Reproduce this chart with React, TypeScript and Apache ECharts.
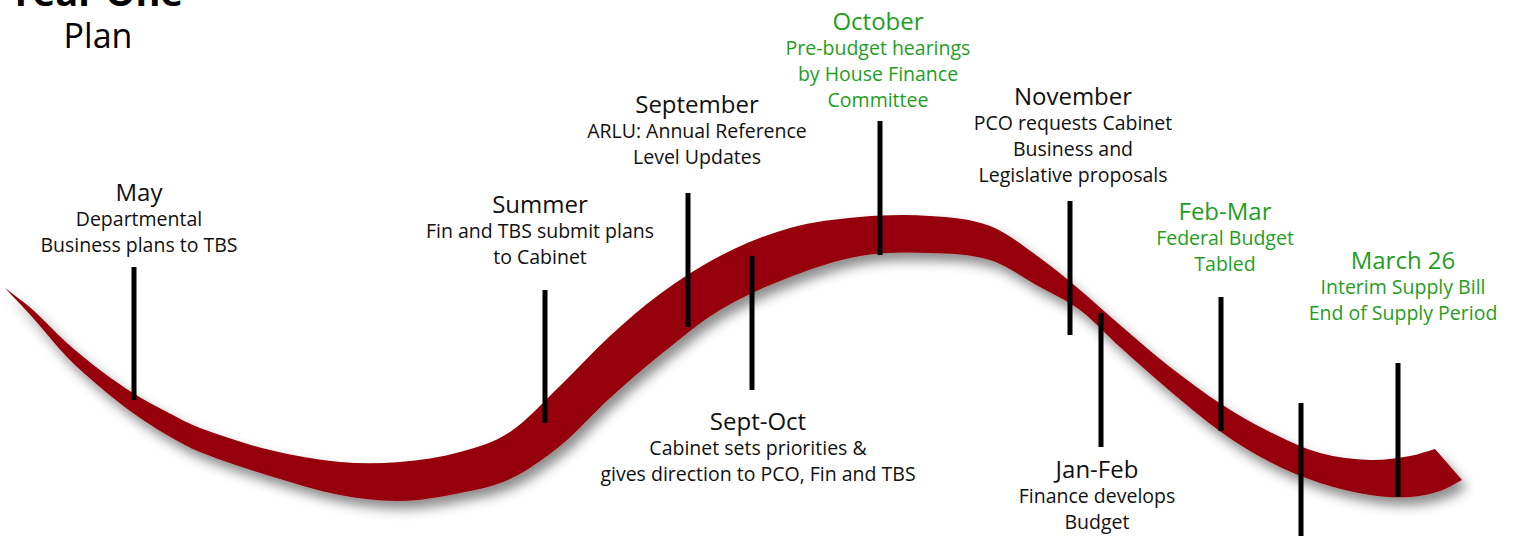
import React, { useEffect, useRef } from "react";
import * as echarts from "echarts";

// Ribbon edges in chart units (y grows downward)
const topX = [5, 33, 67, 100, 133, 167, 200, 270, 340, 400, 460, 510, 560, 610, 660, 720, 790, 860, 930, 990, 1040, 1080, 1120, 1170, 1221, 1270, 1320, 1370, 1410, 1435];
const topY = [288, 310, 343, 370, 393, 412, 428, 450, 462, 462, 452, 432, 386, 336, 294, 256, 228, 217, 216, 226, 258, 290, 325, 367, 404, 432, 453, 460, 456, 449];
const bottomX = [5, 33, 67, 100, 133, 167, 200, 270, 340, 400, 460, 510, 560, 610, 660, 720, 790, 860, 930, 990, 1040, 1080, 1120, 1170, 1221, 1270, 1320, 1370, 1410, 1440, 1462];
const bottomY = [288, 318, 357, 387, 413, 435, 452, 476, 495, 501, 493, 479, 446, 398, 355, 310, 277, 256, 253, 260, 287, 310, 347, 391, 432, 462, 483, 495, 497, 491, 480];

// Event markers
const markerX = [134, 545, 688, 752, 880, 1070, 1101, 1221, 1301, 1398];
const markerTop = [267, 290, 193, 256, 121, 201, 313, 297, 403, 363];
const markerBottom = [400, 423, 327, 390, 255, 335, 447, 431, 540, 497];

// Event labels
const labelTitles = ["May", "Summer", "September", "October", "November", "Feb-Mar", "March 26", "Sept-Oct", "Jan-Feb"];
const labelLines = [
  ["Departmental", "Business plans to TBS"],
  ["Fin and TBS submit plans", "to Cabinet"],
  ["ARLU: Annual Reference", "Level Updates"],
  ["Pre-budget hearings", "by House Finance", "Committee"],
  ["PCO requests Cabinet", "Business and", "Legislative proposals"],
  ["Federal Budget", "Tabled"],
  ["Interim Supply Bill", "End of Supply Period"],
  ["Cabinet sets priorities &", "gives direction to PCO, Fin and TBS"],
  ["Finance develops", "Budget"],
];
const labelX = [139, 540, 697, 878, 1073, 1225, 1403, 758, 1097];
const labelTitleY = [191, 203, 103, 20, 95, 210, 259, 420, 468];
const labelGreen = [false, false, false, true, false, true, true, false, false];

const FONT = "'Open Sans', Lato, sans-serif";
const GREEN = "#1f9e1f";
const RED = "#960008";

type Pt = number[];

// Hermite segments with finite-difference slopes (curve is a function of x)
function slopes(p: Pt[]): number[] {
  const n = p.length;
  return p.map((_, i) => {
    const a = p[Math.max(0, i - 1)];
    const b = p[Math.min(n - 1, i + 1)];
    return (b[1] - a[1]) / (b[0] - a[0] || 1);
  });
}

function forward(ctx: any, p: Pt[]) {
  const m = slopes(p);
  for (let i = 0; i < p.length - 1; i++) {
    const h = p[i + 1][0] - p[i][0];
    ctx.bezierCurveTo(
      p[i][0] + h / 3, p[i][1] + (m[i] * h) / 3,
      p[i + 1][0] - h / 3, p[i + 1][1] - (m[i + 1] * h) / 3,
      p[i + 1][0], p[i + 1][1]
    );
  }
}

function backward(ctx: any, p: Pt[]) {
  const m = slopes(p);
  for (let i = p.length - 1; i > 0; i--) {
    const h = p[i][0] - p[i - 1][0];
    ctx.bezierCurveTo(
      p[i][0] - h / 3, p[i][1] - (m[i] * h) / 3,
      p[i - 1][0] + h / 3, p[i - 1][1] + (m[i - 1] * h) / 3,
      p[i - 1][0], p[i - 1][1]
    );
  }
}

const Ribbon = echarts.graphic.extendShape({
  shape: { top: [] as Pt[], bottom: [] as Pt[] },
  buildPath(ctx: any, shape: any) {
    const t: Pt[] = shape.top;
    const b: Pt[] = shape.bottom;
    if (!t.length || !b.length) return;
    ctx.moveTo(t[0][0], t[0][1]);
    forward(ctx, t);
    ctx.lineTo(b[b.length - 1][0], b[b.length - 1][1]);
    backward(ctx, b);
    ctx.closePath();
  },
});
echarts.graphic.registerShape("ribbon", Ribbon);

export default function App() {
  const ref = useRef<HTMLDivElement>(null);
  useEffect(() => {
    if (!ref.current) return;
    const chart = echarts.init(ref.current, null, { renderer: "svg" });
    chart.setOption({
      animation: false,
      backgroundColor: "#ffffff",
      grid: { left: 0, right: 0, top: 0, bottom: 0 },
      xAxis: { type: "value", min: 0, max: 1515, show: false },
      yAxis: { type: "value", min: 0, max: 536, inverse: true, show: false },
      graphic: [
        {
          type: "text",
          x: 96,
          y: 10,
          style: { text: "Year One", font: `bold 38px ${FONT}`, fill: "#000", align: "center", verticalAlign: "bottom" },
        },
        {
          type: "text",
          x: 98,
          y: 35,
          style: { text: "Plan", font: `34px ${FONT}`, fill: "#000", align: "center", verticalAlign: "middle" },
        },
      ],
      series: [
        {
          type: "custom",
          data: [0],
          renderItem: (params: any, api: any) => {
            const top = topX.map((x, i) => api.coord([x, topY[i]]));
            const bottom = bottomX.map((x, i) => api.coord([x, bottomY[i]]));
            return {
              type: "ribbon",
              shape: { top, bottom },
              style: {
                fill: RED,
                shadowBlur: 12,
                shadowColor: "rgba(0,0,0,0.45)",
                shadowOffsetX: 5,
                shadowOffsetY: 8,
              },
            };
          },
          z: 2,
          silent: true,
        },
        {
          type: "custom",
          data: markerX.map((x, i) => [x, markerTop[i], markerBottom[i]]),
          renderItem: (params: any, api: any) => {
            const p1 = api.coord([api.value(0), api.value(1)]);
            const p2 = api.coord([api.value(0), api.value(2)]);
            return {
              type: "line",
              shape: { x1: p1[0], y1: p1[1], x2: p2[0], y2: p2[1] },
              style: { stroke: "#000", lineWidth: 5 },
            };
          },
          z: 5,
          silent: true,
        },
        {
          type: "custom",
          data: labelX.map((x, i) => [x, labelTitleY[i]]),
          renderItem: (params: any, api: any) => {
            const i = params.dataIndex;
            const p = api.coord([api.value(0), api.value(1)]);
            const color = labelGreen[i] ? GREEN : "#111";
            const text = `{t|${labelTitles[i]}}\n` + labelLines[i].map((l) => `{d|${l}}`).join("\n");
            return {
              type: "text",
              x: p[0],
              y: p[1] - 14,
              style: {
                text,
                align: "center",
                verticalAlign: "top",
                fill: color,
                rich: {
                  t: { fontSize: 24, lineHeight: 28, fill: color, fontFamily: FONT, align: "center" },
                  d: { fontSize: 19.5, lineHeight: 26, fill: color, fontFamily: FONT, align: "center" },
                },
              },
            };
          },
          z: 6,
          silent: true,
        },
      ],
    });
    return () => chart.dispose();
  }, []);
  return <div ref={ref} style={{ position: "absolute", left: 0, top: 0, width: 1515, height: 536 }} />;
}
